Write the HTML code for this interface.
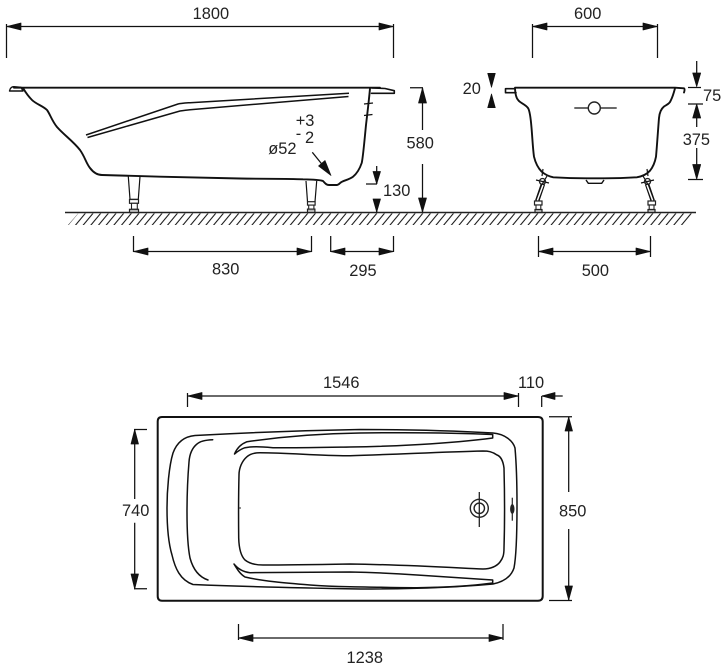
<!DOCTYPE html>
<html><head><meta charset="utf-8"><style>
html,body{margin:0;padding:0;background:#fff}
svg{display:block}
text{font-family:"Liberation Sans",sans-serif;font-size:16.4px;fill:#222}
.l{stroke:#111;stroke-width:1.25;fill:none}
.b{stroke:#111;stroke-width:1.9;fill:none;stroke-linejoin:round;stroke-linecap:round}
.p{stroke:#111;stroke-width:1.5;fill:none;stroke-linejoin:round;stroke-linecap:round}
.t{stroke:#111;stroke-width:1.2;fill:none}
.a{fill:#111;stroke:#111;stroke-width:.7;stroke-linejoin:round}
</style></head><body>
<svg width="727" height="671" viewBox="0 0 727 671" xmlns="http://www.w3.org/2000/svg">
<defs>
<pattern id="h" patternUnits="userSpaceOnUse" width="7.67" height="20" patternTransform="skewX(-39.8)">
<line x1="2.3" y1="0" x2="2.3" y2="20" stroke="#111" stroke-width="1.35"/>
</pattern>
</defs>
<rect width="727" height="671" fill="#fff"/>

<!-- ground -->
<line x1="65" y1="212.5" x2="696" y2="212.5" stroke="#222" stroke-width="1.4"/>
<polygon points="78,213.5 696,213.5 687,225 68,225" fill="url(#h)"/>

<!-- side view -->
<path class="b" d="M14,87.7 H380"/>
<path class="b" style="stroke-width:1.4" d="M9.5,91 C10,88 12,86.5 14,86.7 L21,87.3 L23,91 Z" fill="#444"/>
<path class="b" d="M23.3,88.5 C26,93 29,97 32,100 C36,104 43,106 47,110 C50,114 52,121 57,127 C64,135 73,141 80,150 C85,157 86,163 90,168 C93,172 97,175 102,175 C120,175.5 140,176 160,176.7 C185,177.5 210,178 240,178.5 C265,179 285,178.5 303,179.3 C312,179.5 320,179.8 323,181 C325,183 326,185 329,185 L337,185 C339,185 340,182.5 342,181.7 C346,180 350,179 353,176.7 C357,173.5 360,168 361.7,163 C363,158 364.5,140 366,125 C367.5,112 369,100 370,88.3"/>
<path class="b" style="stroke-width:1.6" d="M372,88 L385,88.5 L394.3,90.7 L394.3,93.3 L371.5,93.3"/>
<path class="t" style="stroke-width:1.5" d="M86,135 L178,104 C181,103.3 186,103 190,102.7 L349,93.3 M87.5,137.5 L180,111 C183,110.5 186,110 190,109.7 L348.5,96.5"/>
<path class="t" d="M364,104 L373,103 M364,115.5 L372.5,114.5"/>
<!-- legs side -->
<path class="t" d="M128.3,176.5 L130,199.3 M140,176.5 L138.3,199.3 M130,199.3 H138.3"/>
<rect x="129.5" y="199.5" width="9" height="3.8" fill="#fff" stroke="#222" stroke-width="1.2"/>
<rect x="131.5" y="203.3" width="5.8" height="6" fill="#fff" stroke="#222" stroke-width="1.1"/>
<rect x="129.5" y="209.3" width="9" height="3.2" fill="#bbb" stroke="#222" stroke-width="1.2"/>
<path class="t" d="M306,181 L307.5,201.7 M316.7,181 L315,201.7"/>
<rect x="307.5" y="201.7" width="7.6" height="3.4" fill="#fff" stroke="#222" stroke-width="1.2"/>
<rect x="308.7" y="205.1" width="5.2" height="4" fill="#fff" stroke="#222" stroke-width="1.1"/>
<rect x="307.5" y="209.1" width="7.4" height="3.4" fill="#bbb" stroke="#222" stroke-width="1.2"/>

<!-- 1800 -->
<path class="l" d="M6.5,24 V58 M393.5,24 V58 M7,26.5 H393"/>
<polygon class="a" points="7,26.5 21,23 21,30"/>
<polygon class="a" points="393,26.5 379,23 379,30"/>
<text x="192.6" y="19">1800</text>
<!-- 600 -->
<path class="l" d="M532.5,24 V58 M657.5,24 V58 M533,26.5 H657"/>
<polygon class="a" points="533,26.5 547,23 547,30"/>
<polygon class="a" points="657,26.5 643,23 643,30"/>
<text x="574" y="19">600</text>

<!-- 580 -->
<path class="l" d="M410,87.7 H423 M422.5,88 V130 M422.5,164 V212"/>
<polygon class="a" points="422.5,88 418.5,103 426.5,103"/>
<polygon class="a" points="422.5,212 418.5,198 426.5,198"/>
<text x="406.5" y="148.5">580</text>
<!-- 130 -->
<path class="l" d="M366,184 H377 M376.7,166 V184 M376.7,199 V212"/>
<polygon class="a" points="376.7,184 373,171.5 380.5,171.5"/>
<polygon class="a" points="376.7,212 373,199 380.5,199"/>
<text x="383" y="196">130</text>
<!-- tolerance -->
<text x="295.7" y="126">+3</text>
<text x="295.7" y="139">-</text>
<text x="305" y="143">2</text>
<text x="268.3" y="154">ø52</text>
<path class="l" d="M312.3,152.3 L325,168"/>
<polygon class="a" points="331,175.5 318.5,166 325,160.5"/>

<!-- 830 295 -->
<path class="l" d="M133.5,236 V252 M311.5,236 V252 M133.5,251.5 H311.5"/>
<polygon class="a" points="134,251.5 148,248 148,255"/>
<polygon class="a" points="311,251.5 297,248 297,255"/>
<text x="212" y="274.5">830</text>
<path class="l" d="M330.7,236 V252 M393.5,236 V252 M331,251.5 H393"/>
<polygon class="a" points="331,251.5 345,248 345,255"/>
<polygon class="a" points="393,251.5 379,248 379,255"/>
<text x="349.3" y="276">295</text>
<!-- 500 -->
<path class="l" d="M538.5,236 V257 M650.5,236 V257 M539,251.5 H650"/>
<polygon class="a" points="539,251.5 553,248 553,255"/>
<polygon class="a" points="650,251.5 636,248 636,255"/>
<text x="581.7" y="276">500</text>

<!-- front view -->
<path class="b" d="M515,87.7 H675 L684,88.3 C685,89 684.5,91 684,92.5"/>
<path class="b" style="stroke-width:1.6" d="M515,88.7 H505.5 V92.7 H516"/>
<path class="b" d="M515,89 C515.5,94 516,98 518.5,100.5 C521,103.5 526,104.5 528.3,108.5 C530.5,113 531,122 531.7,130 C532.5,140 533,150 534,156.7 C535.5,163 538,168 541.7,171.7 C545,174.5 549,176.5 553.3,177.3 C565,178 575,178.3 586.7,178.3 H604 C615,178.3 626,178 636.7,177.3 C642,176.5 647,174 650,170.7 C653,167 655,162 656,156.7 C657,146 658,130 659,118 C659.5,112 661,109 664,106.5 C667,104.5 669.5,104 671,100 C673,96 674,92 675,88.3"/>
<path class="t" d="M574.3,108 H616.7"/>
<circle cx="594.3" cy="108" r="6" fill="#fff" stroke="#222" stroke-width="1.4"/>
<path class="t" style="stroke-width:1.4" d="M586,180 L588.3,183.3 H601.7 L604,180"/>
<!-- front legs -->
<g>
<path class="t" d="M543,169 L542,176 M536,180 L549,183 M547,176 L540,188"/>
<circle cx="542.5" cy="181.5" r="3" fill="none" stroke="#222" stroke-width="1.3"/>
<path fill="none" stroke="#111" stroke-width="4.4" d="M543,184 L537.5,200 L538.5,204"/>
<path fill="none" stroke="#fff" stroke-width="1.5" d="M543,185 L537.5,200 L538.5,204"/>
<rect x="534.5" y="201" width="7.5" height="4" fill="#fff" stroke="#222" stroke-width="1.2"/>
<rect x="536" y="205" width="4.8" height="4.5" fill="#fff" stroke="#222" stroke-width="1.1"/>
<rect x="535" y="209.5" width="7" height="3" fill="#bbb" stroke="#222" stroke-width="1.2"/>
</g>
<g>
<path class="t" d="M647,169 L648,176 M654,180 L641,183 M643,176 L650,188"/>
<circle cx="647.5" cy="181.5" r="3" fill="none" stroke="#222" stroke-width="1.3"/>
<path fill="none" stroke="#111" stroke-width="4.4" d="M647,184 L652.5,200 L651.5,204"/>
<path fill="none" stroke="#fff" stroke-width="1.5" d="M647,185 L652.5,200 L651.5,204"/>
<rect x="648" y="201" width="7.5" height="4" fill="#fff" stroke="#222" stroke-width="1.2"/>
<rect x="649.2" y="205" width="4.8" height="4.5" fill="#fff" stroke="#222" stroke-width="1.1"/>
<rect x="648" y="209.5" width="7" height="3" fill="#bbb" stroke="#222" stroke-width="1.2"/>
</g>
<!-- 20 -->
<polygon class="a" points="491.5,87.3 487.7,73.3 495.3,73.3"/>
<polygon class="a" points="491.5,94 487.7,107.7 495.3,107.7"/>
<text x="462.6" y="94">20</text>
<!-- 75 375 -->
<path class="l" d="M688,87.5 H701 M696.7,61 V75 M688,104 H703 M696.7,116 V127 M696.7,148 V166 M688,179.5 H703"/>
<polygon class="a" points="696.7,86.7 692.7,73 700.7,73"/>
<polygon class="a" points="696.7,104 692.7,118 700.7,118"/>
<polygon class="a" points="696.7,179.3 692.7,164.5 700.7,164.5"/>
<text x="703" y="101">75</text>
<text x="682.7" y="145">375</text>

<!-- plan -->
<path d="M162,417 H538 Q542.7,417 542.7,421.5 V596 Q542.7,600.7 538,600.7 H162 Q157.7,600.7 157.7,596 V421.5 Q157.7,417 162,417 Z" fill="none" stroke="#111" stroke-width="2"/>
<path class="p" d="M360,429.5 C300,430.5 240,433 195,435.5 C184,436.5 177,442 173,453 C169,466 167,490 167,508 C167,528 169,545 172,555 C175,568 180,580 193,584.5 C240,586.5 300,588 360,589 C410,589 460,587 493,584 C503,582 511,577 514,568 C516.5,555 517,530 517,505 C517,485 516.5,465 515,448 C513,441 505,434 493,433 C460,431 410,429.5 360,429.5 Z"/>
<path class="p" d="M212.7,439.7 C205,440 200,441 197,444 C192,448 189.5,455 189,462 C187.5,480 187,495 187,512 C187,530 188,548 190,558 C193,569 199,577 208,580"/>
<path class="p" d="M234.5,454 C237,448 241,444 247,441.7 C280,437 320,433.5 360,433 C400,432.5 450,432.5 492.7,434.5 V438 C470,441 445,443 420,444.5 C395,446 375,446.7 350,447 C320,447.5 295,448 273,447.7 C258,446.5 252,446.5 245,447.7 C241,449 238,451 234.5,454 Z"/>
<path class="p" d="M260,452.7 C254,452.7 250,454 247,456.7 C242,461 239,468 239,475 C238.5,495 238.5,520 238.7,538 C239,549 241,556 245,560 C250,564 256,565 263,565 C290,565 320,564.5 350,564 C395,564.5 440,567 483,569 C491,569 497,566 500,562 C503,558 504,555 504,548 C504.7,525 504.7,495 504,468 C503,460 500,456 497,455 C492,451.5 488,451 483,451 C440,452 395,454.5 350,455.7 C320,456 290,452.7 260,452.7 Z"/>
<path class="p" d="M234,564 C238,569 244,572 250,572.7 C285,572.5 320,572 350,572 C375,572.5 395,573.5 417,575 L492.7,580 V583 C470,586 445,587.5 417,587.7 C395,587.8 375,587 350,586.7 C335,586.5 320,585.8 310,585 C285,583 262,581 245,577 C240,574 237,569 234,564 Z"/>
<!-- drain -->
<circle cx="479.3" cy="508.3" r="9" fill="none" stroke="#222" stroke-width="1.4"/>
<circle cx="479.3" cy="508.3" r="5.2" fill="none" stroke="#222" stroke-width="1.4"/>
<line x1="479.3" y1="492" x2="479.3" y2="527" stroke="#222" stroke-width="1.3"/>
<ellipse cx="512.3" cy="509" rx="2.2" ry="5" fill="#222"/>
<line x1="512.3" y1="497.7" x2="512.3" y2="520.7" stroke="#222" stroke-width="1.2"/>
<line x1="238.7" y1="508" x2="241" y2="508" stroke="#222" stroke-width="1"/>

<!-- 1546 110 -->
<path class="l" d="M187.5,393 V407 M518.5,393 V407 M188,396 H518"/>
<polygon class="a" points="188,396 202,392.5 202,399.5"/>
<polygon class="a" points="518,396 504,392.5 504,399.5"/>
<text x="323" y="388">1546</text>
<text x="518" y="388">110</text>
<path class="l" d="M541.7,396 V407 M542,396 H562.7"/>
<polygon class="a" points="542,396 555,392.5 555,399.5"/>
<!-- 740 -->
<path class="l" d="M134,429.5 H147 M134.7,430 V499 M134.7,522.7 V588 M134,588.7 H147"/>
<polygon class="a" points="134.7,429.5 131,444 138.5,444"/>
<polygon class="a" points="134.7,589 131,574 138.5,574"/>
<text x="122" y="516">740</text>
<!-- 850 -->
<path class="l" d="M549,416.7 H572 M568.7,417 V492 M568.7,529 V600 M549,600.5 H572"/>
<polygon class="a" points="568.7,417 565,431 572.5,431"/>
<polygon class="a" points="568.7,600 565,586 572.5,586"/>
<text x="559" y="516.7">850</text>
<!-- 1238 -->
<path class="l" d="M238.5,624 V640 M503,624 V640 M239,638 H503"/>
<polygon class="a" points="239,638 253,634.5 253,641.5"/>
<polygon class="a" points="503,638 489,634.5 489,641.5"/>
<text x="346.5" y="663">1238</text>
</svg>
</body></html>
